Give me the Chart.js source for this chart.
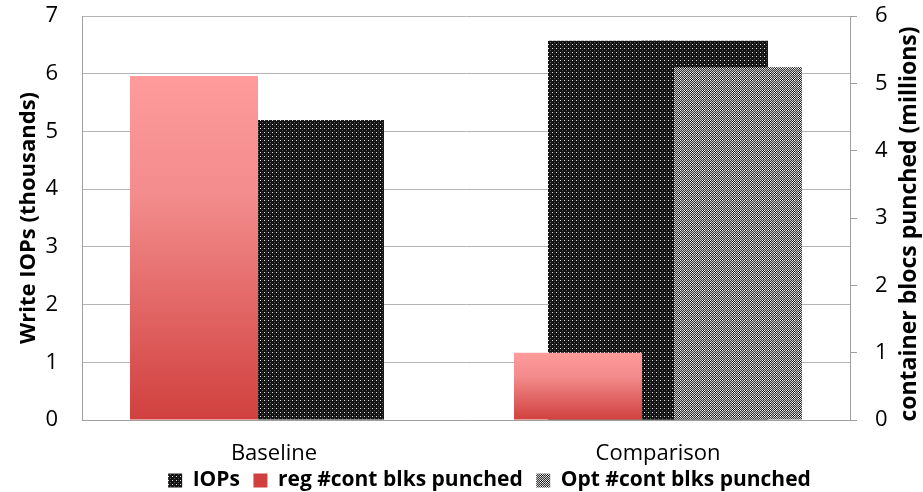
<!DOCTYPE html>
<html>
<head>
<meta charset="utf-8">
<script src="https://cdn.jsdelivr.net/npm/chart.js@4.4.0/dist/chart.umd.min.js"></script>
<style>
  html, body { margin: 0; padding: 0; background: #fff; }
</style>
</head>
<body>
<canvas id="chart" width="923" height="492"></canvas>
<script>
const categories = ["Baseline", "Comparison"];
// write IOPs, thousands (left axis)
const iops = [5.2, 6.57];
// second IOPs bar that sits behind the Comparison group
const iopsOverlap = [null, 6.57];
// container blocks punched, millions (right axis)
const regPunched = [5.11, 1.0];
const optPunched = [null, 5.24];

const leftTitle = "Write IOPs (thousands)";
const rightTitle = "container blocs punched (millions)";
const FONT = "Open Sans";

const canvas = document.querySelector("#chart");
const ctx = canvas.getContext("2d");

function makePattern(size, base, dots) {
  const c = document.createElement("canvas");
  c.width = size;
  c.height = size;
  const g = c.getContext("2d");
  g.fillStyle = base;
  g.fillRect(0, 0, size, size);
  dots.forEach((d) => {
    g.fillStyle = d[2];
    g.fillRect(d[0], d[1], 1, 1);
  });
  return ctx.createPattern(c, "repeat");
}

const darkDots = makePattern(4, "#141414", [
  [0, 0, "#e6e6e6"],
  [2, 2, "#5a5a5a"],
  [2, 0, "#2e2e2e"],
]);

// grey checker with a coarser sparkle every 6px
const checkDots = [];
for (let y = 0; y < 6; y++) {
  for (let x = 0; x < 6; x++) {
    const on = (x + y) % 2 === 0;
    const hot = x < 3 && y < 3;
    checkDots.push([x, y, on ? (hot ? "#ffffff" : "#c4c4c4") : hot ? "#000000" : "#3c3c3c"]);
  }
}
const greyChecker = makePattern(6, "#808080", checkDots);

function redGradient(top, bottom) {
  const g = ctx.createLinearGradient(0, top, 0, bottom);
  g.addColorStop(0, "#ff9b9b");
  g.addColorStop(0.35, "#f38c8c");
  g.addColorStop(1, "#d0403e");
  return g;
}

function regFill(c) {
  const chart = c.chart;
  if (c.type !== "data") {
    // legend swatch
    const lg = chart.legend;
    if (lg && lg.bottom) {
      const mid = lg.top + 3 + 10.5;
      return redGradient(mid - 7, mid + 7);
    }
    return "#e86a6a";
  }
  const scale = chart.scales.y2;
  if (!chart.chartArea || !scale || c.raw == null) return "#e86a6a";
  return redGradient(scale.getPixelForValue(c.raw), scale.getPixelForValue(0));
}

// right axis title reads bottom-to-top like the left one; legend sits right of centre
const sideTitle = {
  id: "sideTitle",
  afterLayout(chart) {
    chart.legend.left += 28;
    chart.legend.right += 28;
  },
  afterDraw(chart) {
    const a = chart.chartArea;
    const c = chart.ctx;
    c.save();
    c.translate(chart.scales.y2.right - 14, (a.top + a.bottom) / 2 + 6);
    c.rotate(-Math.PI / 2);
    c.font = `bold 23px "${FONT}"`;
    c.fillStyle = "#000";
    c.textAlign = "center";
    c.textBaseline = "middle";
    c.fillText(rightTitle, 0, 0);
    c.restore();
  },
};

function noLabelOverflow(s, width) {
  s.width = width;
  s.paddingTop = 0;
  s.paddingBottom = 0;
}

// left slot holds reg + the overlapping IOPs bar, right slot holds IOPs + Opt
const primaryBar = { categoryPercentage: 0.4896, barPercentage: 1.34 };
const secondaryBar = { categoryPercentage: 0.8333, barPercentage: 0.8 };

new Chart(canvas, {
  type: "bar",
  data: {
    labels: categories,
    datasets: [
      { label: "IOPs", data: iops, backgroundColor: darkDots, yAxisID: "y", stack: "R", order: 2, ...primaryBar },
      { label: "reg #cont blks punched", data: regPunched, backgroundColor: regFill, yAxisID: "y2", stack: "L", order: 0, ...secondaryBar },
      { label: "Opt #cont blks punched", data: optPunched, backgroundColor: greyChecker, yAxisID: "y2", stack: "R", order: 0, ...secondaryBar },
      { label: "IOPs (overlap)", data: iopsOverlap, backgroundColor: darkDots, yAxisID: "y", stack: "L", order: 1, ...primaryBar },
    ],
  },
  options: {
    responsive: false,
    animation: false,
    layout: { autoPadding: false, padding: { top: 16, bottom: -9, left: 0, right: 0 } },
    scales: {
      x: {
        grid: { display: false, drawTicks: false },
        border: { display: true, color: "#9f9f9f" },
        ticks: { color: "#000", font: { family: FONT, size: 22 }, padding: 21 },
        afterFit: (s) => { s.height = 47; },
      },
      y: {
        position: "left",
        min: 0,
        max: 7,
        stacked: false,
        ticks: { stepSize: 1, color: "#000", font: { family: FONT, size: 22 }, padding: 24 },
        grid: { color: "#b4b4b4", drawTicks: false },
        border: { color: "#9f9f9f" },
        title: {
          display: true,
          text: leftTitle,
          color: "#000",
          font: { family: FONT, size: 22, weight: "bold" },
          padding: { top: 16, bottom: 0 },
        },
        afterFit: (s) => noLabelOverflow(s, 82),
      },
      y2: {
        position: "right",
        min: 0,
        max: 6,
        stacked: false,
        ticks: { stepSize: 1, color: "#000", font: { family: FONT, size: 22 }, padding: 18 },
        grid: { drawOnChartArea: false, drawTicks: true, tickLength: 7, color: "#9f9f9f" },
        border: { color: "#9f9f9f" },
        afterFit: (s) => noLabelOverflow(s, 73),
      },
    },
    plugins: {
      tooltip: { enabled: false },
      legend: {
        position: "bottom",
        labels: {
          color: "#000",
          font: { family: FONT, size: 21, weight: "bold" },
          boxWidth: 14,
          boxHeight: 14,
          padding: 3,
          generateLabels: (ch) => {
            const items = Chart.defaults.plugins.legend.labels.generateLabels(ch)
              .filter((it) => it.datasetIndex !== 3)
              .sort((a, b) => a.datasetIndex - b.datasetIndex);
            items.forEach((it, i) => {
              if (i < items.length - 1) it.text += "\u2002";
            });
            return items;
          },
        },
      },
    },
  },
  plugins: [sideTitle],
});
</script>
</body>
</html>
